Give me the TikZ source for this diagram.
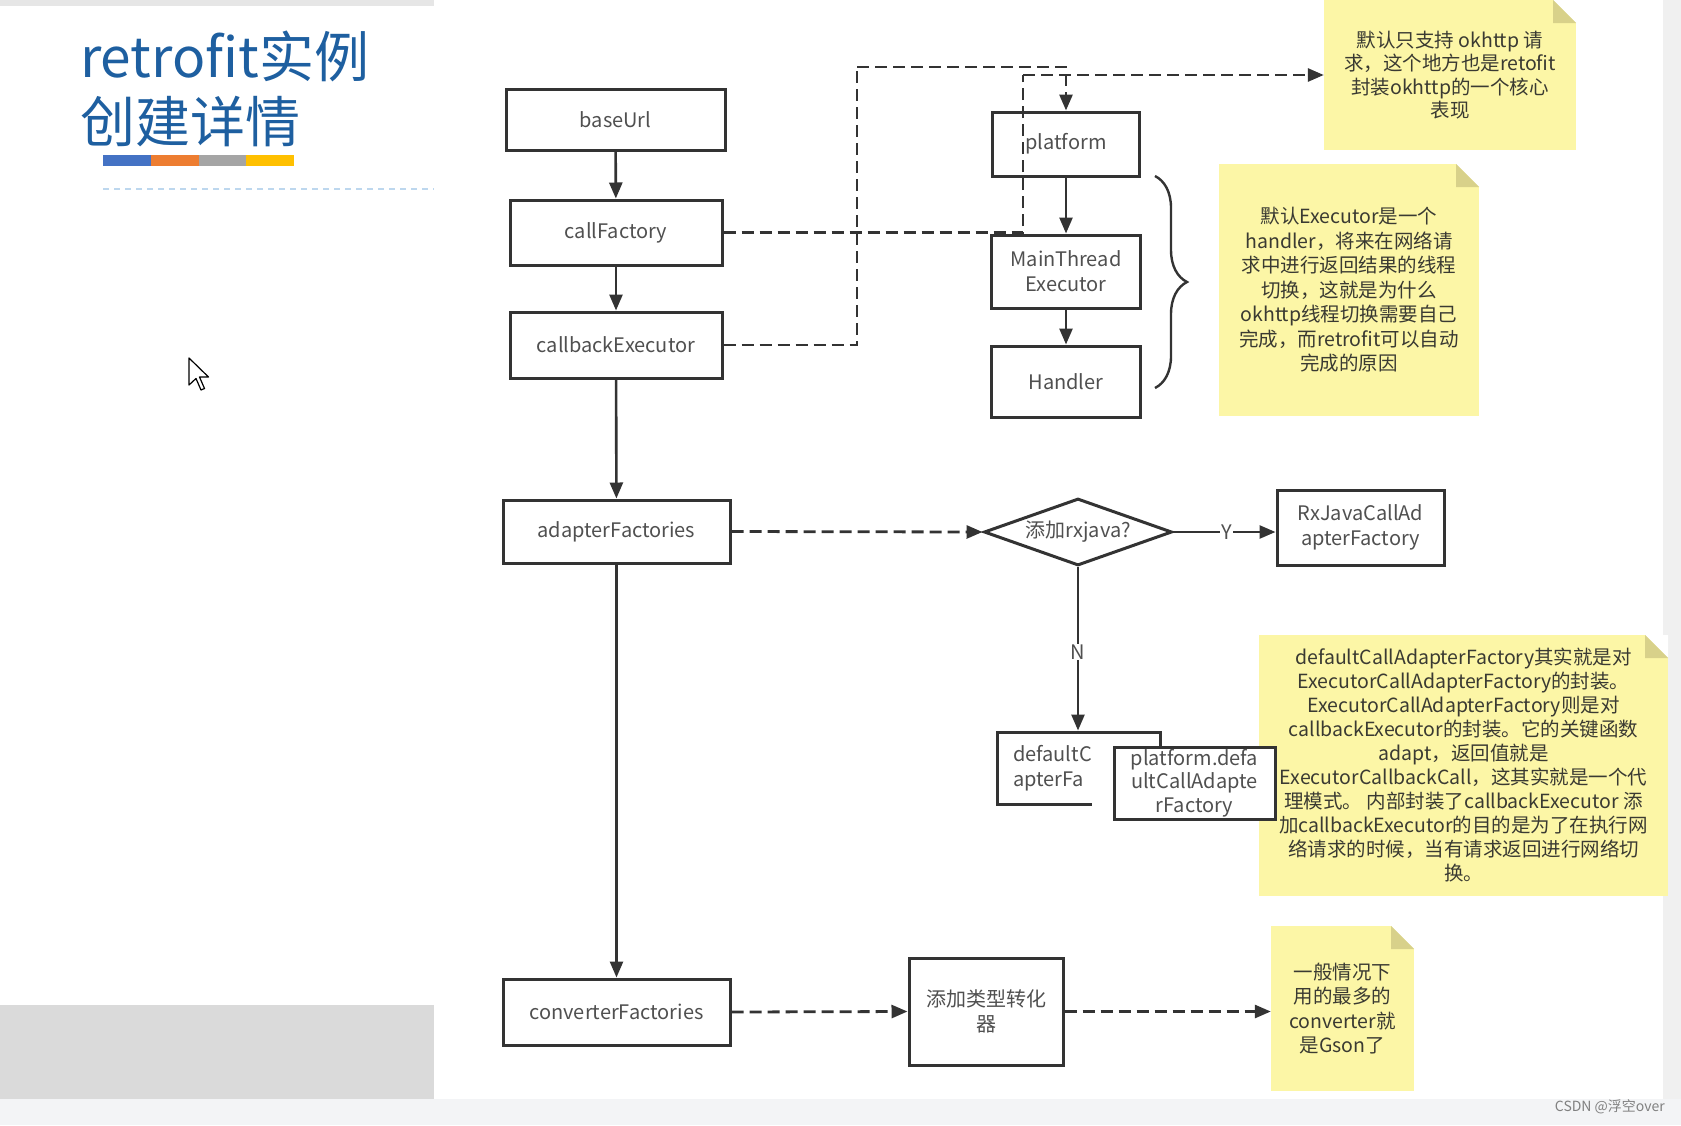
\documentclass[tikz,border=0pt]{standalone}
\usepackage{fontspec}
\setmainfont{Noto Sans CJK SC}
\usetikzlibrary{arrows.meta,shapes.geometric,decorations.pathreplacing}
\definecolor{titleblue}{HTML}{1E5FA0}
\definecolor{linecol}{HTML}{333333}
\definecolor{txtcol}{HTML}{505050}
\definecolor{notetxt}{HTML}{3A3A32}
\definecolor{noteyel}{HTML}{FCF6A6}
\definecolor{notefold}{HTML}{D8D18A}
\definecolor{barblue}{HTML}{4472C4}
\definecolor{barorange}{HTML}{ED7D31}
\definecolor{bargray}{HTML}{A5A5A5}
\definecolor{baryellow}{HTML}{FFC000}
\definecolor{dashblue}{HTML}{BDD7EE}
\definecolor{sidegray}{HTML}{DADADA}
\definecolor{topgray}{HTML}{E6E6E6}
\definecolor{stripgray}{HTML}{F3F4F6}
\definecolor{rightgray}{HTML}{F0F0F0}
\tikzset{
  box/.style={draw=linecol, line width=3pt, fill=white, text=txtcol,
    font=\fontsize{20}{25}\selectfont, align=center, inner sep=2pt},
  diabox/.style={draw=linecol, line width=3pt, fill=white, text=txtcol, shape=diamond,
    aspect=2.8, inner sep=0pt, font=\fontsize{20}{24}\selectfont},
  note/.style={fill=noteyel, text=notetxt, align=center, inner sep=0pt,
    font=\fontsize{19.5}{24}\selectfont,
    path picture={
      \fill[white] ([xshift=-23pt]path picture bounding box.north east) -- (path picture bounding box.north east) -- ([yshift=-23pt]path picture bounding box.north east) -- cycle;
      \fill[notefold] ([xshift=-23pt]path picture bounding box.north east) -- ([xshift=-23pt,yshift=-23pt]path picture bounding box.north east) -- ([yshift=-23pt]path picture bounding box.north east) -- cycle;
    }},
  sarrow/.style={draw=linecol, line width=2.6pt, -{Triangle[length=16pt,width=13pt]}},
  darrow/.style={draw=linecol, line width=2.8pt, dash pattern=on 12pt off 6pt, -{Triangle[length=16pt,width=13pt]}},
  dline/.style={draw=linecol, line width=2.8pt, dash pattern=on 12pt off 6pt},
  lbl/.style={fill=white, inner sep=1pt, text=txtcol, font=\fontsize{20}{24}\selectfont},
  titletxt/.style={text=titleblue, inner sep=0pt, anchor=base west, font=\fontsize{55}{60}\selectfont},
}
\begin{document}
\begin{tikzpicture}[x=1pt,y=-1pt]
\useasboundingbox (0,0) rectangle (1681,1125);
% background
\fill[white] (0,0) rectangle (1681,1125);
\fill[topgray] (0,0) rectangle (434,6);
\fill[sidegray] (0,1005) rectangle (434,1099);
\fill[rightgray] (1663,0) rectangle (1681,1099);
\fill[stripgray] (0,1099) rectangle (1681,1125);
% title
\node[titletxt] (t1) at (80,77) {retrofit实例};
\node[titletxt] (t2) at (80,142) {创建详情};
\fill[barblue] (103,155) rectangle (151,166);
\fill[barorange] (151,155) rectangle (198.5,166);
\fill[bargray] (198.5,155) rectangle (246,166);
\fill[baryellow] (246,155) rectangle (294,166);
\draw[dashblue, line width=1.5pt, dash pattern=on 6pt off 5pt] (103,189) -- (434,189);
% cursor
\draw[black, line width=1.2pt, fill=white, line join=round] (189,358) -- ++(0,27) -- ++(7,-6.5) -- ++(5,11.5) -- ++(3.5,-1.5) -- ++(-5,-11.5) -- ++(9,0) -- cycle;
% notes
\node[note, minimum width=252pt, minimum height=150pt, font=\fontsize{19.5}{23.5}\selectfont] (note1) at (1450,75)
  {默认只支持 okhttp 请\\求，这个地方也是retofit\\封装okhttp的一个核心\\表现};
\node[note, minimum width=260pt, minimum height=252pt, font=\fontsize{19.5}{24.5}\selectfont] (note2) at (1349,290)
  {默认Executor是一个\\handler，将来在网络请\\求中进行返回结果的线程\\切换，这就是为什么\\okhttp线程切换需要自己\\完成，而retrofit可以自动\\完成的原因};
\node[note, minimum width=409pt, minimum height=261pt] (note3) at (1463.5,765.5)
  {defaultCallAdapterFactory其实就是对\\ExecutorCallAdapterFactory的封装。\\ExecutorCallAdapterFactory则是对\\callbackExecutor的封装。它的关键函数\\adapt，返回值就是\\ExecutorCallbackCall，这其实就是一个代\\理模式。 内部封装了callbackExecutor 添\\加callbackExecutor的目的是为了在执行网\\络请求的时候，当有请求返回进行网络切\\换。};
\node[note, minimum width=143pt, minimum height=165pt, font=\fontsize{19.5}{24.5}\selectfont] (note4) at (1342.5,1008.5)
  {一般情况下\\用的最多的\\converter就\\是Gson了};
% main column
\node[box, minimum width=219pt, minimum height=61pt] (baseurl) at (615.5,119.5) {baseUrl};
\node[box, minimum width=212pt, minimum height=65pt] (callf) at (616,232.5) {callFactory};
\node[box, minimum width=212pt, minimum height=66pt] (cbexec) at (616,345) {callbackExecutor};
\node[box, minimum width=227pt, minimum height=63pt] (adapt) at (616.5,531.5) {adapterFactories};
\node[box, minimum width=227pt, minimum height=66pt] (conv) at (616.5,1012) {converterFactories};
% platform column
\node[box, minimum width=147pt, minimum height=64pt] (platform) at (1066,144) {platform};
\node[box, minimum width=149pt, minimum height=73pt] (mainth) at (1066,271.5) {MainThread\\Executor};
\node[box, minimum width=149pt, minimum height=71pt] (handler) at (1066,381.5) {Handler};
% decision
\node[diabox, minimum width=188pt, minimum height=67pt] (dia) at (1078,532) {添加rxjava?};
\node[box, minimum width=167pt, minimum height=75pt] (rx) at (1360.5,527.5) {RxJavaCallAd\\apterFactory};
\node[box, minimum width=163pt, minimum height=72pt, text width=131pt, align=left, inner xsep=16pt] (defc) at (1078.5,768) {defaultC\\apterFa};
\fill[white] (1092,749) rectangle (1114,808);
\node[box, minimum width=161pt, minimum height=72pt, font=\fontsize{20}{23.5}\selectfont] (pdef) at (1194.5,783) {platform.defa\\ultCallAdapte\\rFactory};
\node[box, minimum width=154pt, minimum height=107pt] (addconv) at (986,1011.5) {添加类型转化\\器};
% brace
\draw[linecol, line width=2.4pt, decorate, decoration={brace, amplitude=32pt}] (1155,176) -- (1155,388);
% solid connectors
\draw[sarrow] (baseurl) -- (callf);
\draw[sarrow] (callf) -- (cbexec);
\draw[sarrow] (cbexec) -- (adapt);
\draw[sarrow] (adapt) -- (conv);
\draw[sarrow] (platform) -- (mainth);
\draw[sarrow] (mainth) -- (handler);
\draw[sarrow] (dia.east) -- node[lbl, pos=0.52] {Y} (rx.west |- dia.east);
\draw[sarrow] (dia.south) -- node[lbl, pos=0.52] {N} (defc.north -| dia.south);
% dashed connectors
\coordinate (c1) at (1023,75);
\coordinate (c2) at (857,67);
\draw[dline] (callf.east) -| (c1);
\draw[darrow] (c1) -- (note1.west);
\draw[dline] (cbexec.east) -| (c2);
\draw[darrow] (c2) -| (platform.north);
\draw[darrow] (adapt.east) -- (dia.west);
\draw[darrow] (conv.east) -- (addconv.west);
\draw[darrow] (addconv.east) -- (note4.west |- addconv.east);
% watermark
\node[text=gray, anchor=east, inner sep=0pt, font=\fontsize{14}{16}\selectfont] (wm) at (1665,1107) {CSDN @浮空over};
\end{tikzpicture}
\end{document}
